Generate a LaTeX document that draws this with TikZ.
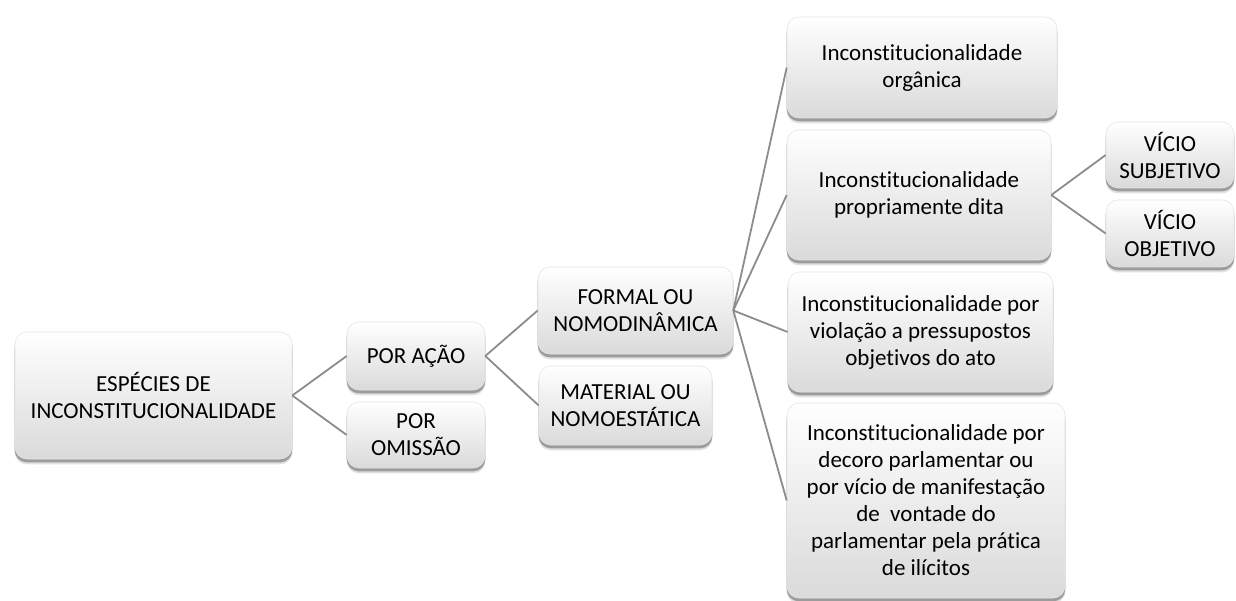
\documentclass[tikz,border=0pt]{standalone}
\usepackage{fontspec}
\setmainfont{Carlito}[Ligatures=NoCommon]
\usetikzlibrary{backgrounds}
\definecolor{boxbottom}{RGB}{218,218,218}
\definecolor{linkgray}{RGB}{140,140,140}
\begin{document}
\begin{tikzpicture}[x=1pt, y=-1pt,
    box/.style={rectangle, rounded corners=12pt, inner sep=0pt, align=center,
      top color=white, bottom color=boxbottom, draw=black!10, line width=0.6pt,
      font=\fontsize{23}{27}\selectfont},
    boxshadow/.style={fill=black, rounded corners=12pt},
    link/.style={draw=linkgray, line width=1.8pt}]
  \useasboundingbox (0,0) rectangle (1236,601);
  % first level
  \node[box, minimum width=277pt, minimum height=127pt] (root) at (153.5,395.5)
    {ESPÉCIES DE\\INCONSTITUCIONALIDADE};
  \node[box, minimum width=138pt, minimum height=68pt] (acao) at (416,356) {POR AÇÃO};
  \node[box, minimum width=138pt, minimum height=66pt] (omissao) at (416,435) {POR\\OMISSÃO};
  % second level
  \node[box, minimum width=195pt, minimum height=87pt] (formal) at (635.5,310.5)
    {FORMAL OU\\NOMODINÂMICA};
  \node[box, minimum width=173pt, minimum height=79pt] (material) at (625.5,405.5)
    {MATERIAL OU\\NOMOESTÁTICA};
  % third level
  \node[box, minimum width=270pt, minimum height=101pt] (organica) at (922,67.5)
    {Inconstitucionalidade\\orgânica};
  \node[box, minimum width=264pt, minimum height=130pt] (propria) at (919,195)
    {Inconstitucionalidade\\propriamente dita};
  \node[box, minimum width=265pt, minimum height=120pt] (pressup) at (920.5,332)
    {Inconstitucionalidade por\\violação a pressupostos\\objetivos do ato};
  \node[box, minimum width=278pt, minimum height=195pt] (decoro) at (926,500.5)
    {Inconstitucionalidade por\\decoro parlamentar ou\\por vício de manifestação\\de~ vontade do\\parlamentar pela prática\\de ilícitos};
  % vícios
  \node[box, minimum width=128pt, minimum height=66pt] (subj) at (1170,155) {VÍCIO\\SUBJETIVO};
  \node[box, minimum width=128pt, minimum height=67pt] (obj) at (1170,233.5) {VÍCIO\\OBJETIVO};

  % shadows
  \begin{scope}[on background layer]
    \foreach \n in {root, acao, omissao, formal, material, organica, propria, pressup, decoro, subj, obj} {
      \fill[boxshadow, opacity=0.12] ([yshift=-5pt]\n.south west) rectangle ([yshift=-5pt]\n.north east);
      \fill[boxshadow, opacity=0.3] ([yshift=-3pt]\n.south west) rectangle ([yshift=-3pt]\n.north east);
    }
  \end{scope}

  \draw[link] (root.east) -- (acao.west);
  \draw[link] (root.east) -- (omissao.west);
  \draw[link] (acao.east) -- (formal.west);
  \draw[link] (acao.east) -- (material.west);
  \foreach \n in {organica, propria, pressup, decoro}
    \draw[link] (formal.east) -- (\n.west);
  \draw[link] (propria.east) -- (subj.west);
  \draw[link] (propria.east) -- (obj.west);
\end{tikzpicture}
\end{document}
